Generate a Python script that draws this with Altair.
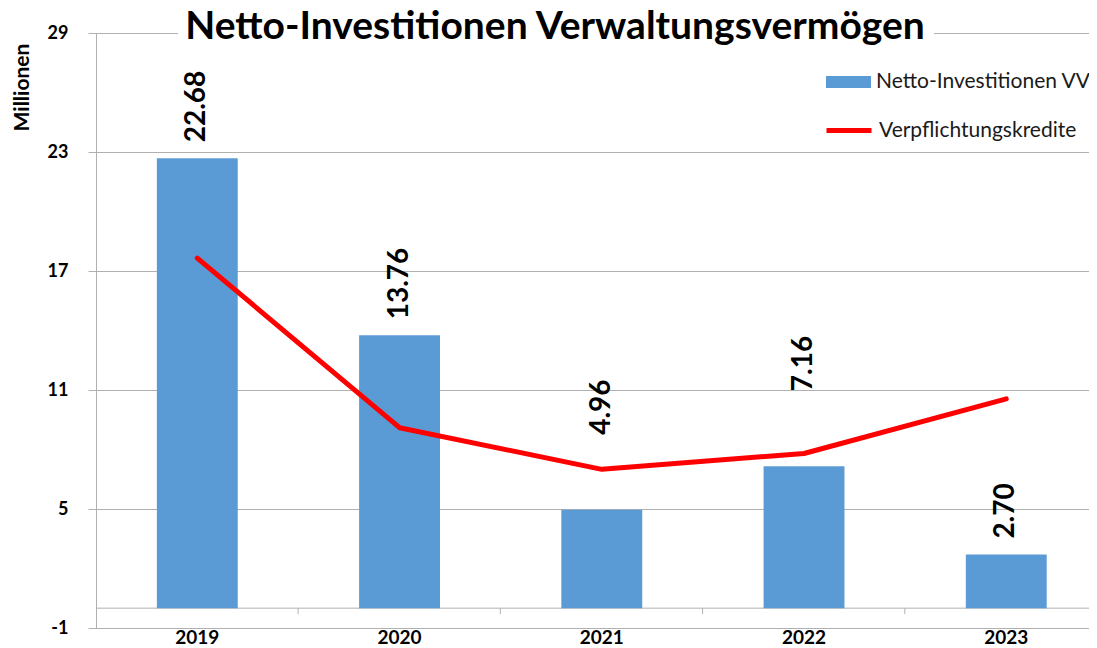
import altair as alt
import pandas as pd

years = ["2019", "2020", "2021", "2022", "2023"]
netto = [22.68, 13.76, 4.96, 7.16, 2.70]
kredite = [17.65, 9.1, 7.0, 7.8, 10.55]
y_ticks = [-1, 5, 11, 17, 23, 29]
lifted_years = ["2021", "2022"]
bar_name = "Netto-Investitionen VV"
line_name = "Verpflichtungskredite"
title_text = "Netto-Investitionen Verwaltungsvermögen"

BLUE = "#5B9BD5"
RED = "#FF0000"
GRID = "#B0B0B0"
FONT = "Lato"

df = pd.DataFrame({
    "year": years,
    "netto": netto,
    "kredite": kredite,
    "label": [f"{v:.2f}" for v in netto],
    "bar_series": [bar_name] * len(years),
    "line_series": [line_name] * len(years),
})
ticks_df = pd.DataFrame({"year": years[1:]})
one = pd.DataFrame({"k": [0]})

x_scale = alt.Scale(domain=years, paddingInner=0.6, paddingOuter=0.255, align=0.59)
x_enc = alt.X(
    "year:N", title=None, scale=x_scale,
    axis=alt.Axis(labelAngle=0, labelFont=FONT, labelFontSize=19, labelFontWeight="bold",
                  labelColor="black", ticks=False, domain=True, domainColor=GRID,
                  labelPadding=0, grid=False),
)
y_scale = alt.Scale(domain=[-1, 29], nice=False, zero=False)
y_axis = alt.Axis(
    values=y_ticks, title="Millionen", titleFont=FONT, titleFontSize=21, titleFontWeight="bold",
    titleColor="black", titleAngle=270, titleX=-74, titleY=54, titleAlign="center",
    titleBaseline="middle",
    labelFont=FONT, labelFontSize=18, labelFontWeight="bold", labelColor="black",
    labelPadding=20, tickSize=8, tickColor=GRID, domainColor=GRID, gridColor=GRID,
    grid=True, labelExpr="'' + datum.value",
)

legend_common = dict(title=None, orient="none", labelFont=FONT, labelFontSize=21,
                     labelColor="#1a1a1a", labelOffset=5, padding=0, labelLimit=0,
                     symbolSize=2025)

bars = alt.Chart(df).mark_bar().encode(
    x=x_enc,
    y=alt.Y("netto:Q", scale=y_scale, axis=y_axis),
    y2=alt.datum(0),
    fill=alt.Fill("bar_series:N", scale=alt.Scale(domain=[bar_name], range=[BLUE]),
                  legend=alt.Legend(legendX=730, legendY=26.5,
                                    symbolType="M-1,-0.27H1V0.27H-1Z",
                                    symbolStrokeWidth=0, **legend_common)),
)

zero_rule = alt.Chart(one).mark_rule(color=GRID, strokeWidth=1).encode(y=alt.datum(0))

cat_ticks = alt.Chart(ticks_df).mark_rule(color=GRID, strokeWidth=1, xOffset=-61).encode(
    x=alt.X("year:N", bandPosition=0, scale=x_scale),
    y=alt.datum(0), y2=alt.datum(-0.3),
)

mask = alt.Chart(one).mark_rect(color="white").encode(
    x=alt.value(82), x2=alt.value(838), y=alt.value(-4), y2=alt.value(4)
)

line = alt.Chart(df).mark_line(strokeWidth=5, strokeCap="round", strokeJoin="round").encode(
    x=alt.X("year:N", scale=x_scale),
    y=alt.Y("kredite:Q"),
    stroke=alt.Stroke("line_series:N", scale=alt.Scale(domain=[line_name], range=[RED]),
                      legend=alt.Legend(legendX=728, legendY=72.5, symbolType="stroke",
                                        symbolStrokeWidth=5, **legend_common)),
)

text_style = dict(angle=270, align="left", baseline="middle", font=FONT, fontSize=28,
                  fontWeight="bold", color="black")
labels = alt.Chart(df).transform_filter(
    ~alt.FieldOneOfPredicate(field="year", oneOf=lifted_years)
).mark_text(dx=16, **text_style).encode(
    x=alt.X("year:N", scale=x_scale), y=alt.Y("netto:Q"), text="label:N")
labels_lifted = alt.Chart(df).transform_filter(
    alt.FieldOneOfPredicate(field="year", oneOf=lifted_years)
).mark_text(dx=75, **text_style).encode(
    x=alt.X("year:N", scale=x_scale), y=alt.Y("netto:Q"), text="label:N")

chart = alt.layer(zero_rule, bars, cat_ticks, mask, line, labels, labels_lifted).resolve_scale(
    fill="independent", stroke="independent"
).properties(
    width=993, height=595,
    padding={"left": 88, "top": 25, "right": 0, "bottom": 20},
    autosize=alt.AutoSizeParams(type="none"),
    title=alt.TitleParams(title_text, font=FONT, fontSize=39, fontWeight="bold", color="black",
                          anchor="middle", dx=-37.5, baseline="alphabetic", offset=0, dy=54),
).configure_view(stroke=None).configure(background="white")

chart.save("out.html", embed_options={"renderer": "svg", "actions": False})
